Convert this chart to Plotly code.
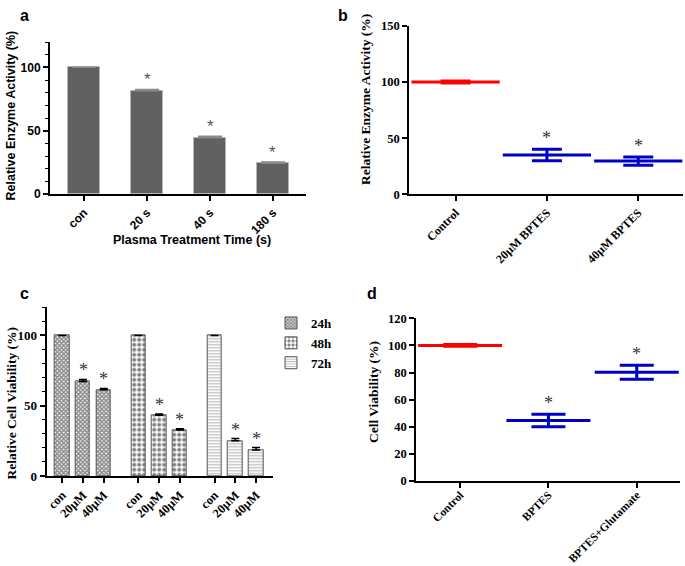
import plotly.graph_objects as go

# a: enzyme activity vs plasma treatment time
a_labels = ["con", "20 s", "40 s", "180 s"]
a_values = [100, 81.5, 44.5, 24.2]
a_err = [None, 1.0, 1.0, 1.0]

# b: enzyme activity with BPTES
b_labels = ["Control", "20µM BPTES", "40µM BPTES"]
b_mean = [100, 35.1, 29.6]
b_sd = [0.9, 5.1, 3.7]

# c: cell viability at 24/48/72 h
c_groups = ["24h", "48h", "72h"]
c_labels = ["con", "20µM", "40µM"]
c_24h = [100, 67.2, 61.3]
c_24h_err = [None, 1.5, 1.0]
c_48h = [100, 43.3, 32.8]
c_48h_err = [None, 0.8, 0.8]
c_72h = [100, 25.0, 18.5]
c_72h_err = [None, 1.6, 1.7]

# d: cell viability with BPTES / glutamate
d_labels = ["Control", "BPTES", "BPTES+Glutamate"]
d_mean = [100, 44.6, 80.2]
d_sd = [0.7, 4.6, 5.1]

W, H = 685, 566
SANS = "Liberation Sans"
SERIF = "Liberation Serif"
RED = "#ff0000"
BLUE = "#0000c8"


def px_x(p):
    return p / W


def px_y(p):
    return (H - p) / H


fig = go.Figure()
annotations = []

# ---------- panel a ----------
fig.add_trace(go.Bar(
    x=list(range(len(a_labels))), y=a_values, width=0.5,
    marker=dict(color="#616161", line=dict(color="#b5b5b5", width=1)),
    error_y=dict(type="data", array=a_err, arrayminus=[0] * 4, symmetric=False,
                 color="#8a8a8a", thickness=1.5, width=12),
    xaxis="x", yaxis="y", showlegend=False,
))
for i, v in enumerate(a_values):
    if a_err[i] is None:
        continue
    annotations.append(dict(x=i, y=v + a_err[i], xref="x", yref="y", text="*",
                            showarrow=False, yanchor="bottom", yshift=-2,
                            font=dict(family=SANS, size=17, color="#555555")))

# ---------- panel b ----------
for i, m in enumerate(b_mean):
    col = RED if i == 0 else BLUE
    fig.add_trace(go.Scatter(
        x=[i], y=[m], mode="markers",
        marker=dict(symbol="line-ew", size=63, color=col, line=dict(color=col, width=3)),
        error_y=dict(type="data", array=[b_sd[i]], color=col, thickness=3, width=15),
        xaxis="x2", yaxis="y2", showlegend=False,
    ))
    if i > 0:
        annotations.append(dict(x=i, y=m + b_sd[i], xref="x2", yref="y2", text="*",
                                showarrow=False, yanchor="bottom", yshift=-1,
                                font=dict(family=SERIF, size=18, color="#333333")))

# ---------- panel c ----------
gap = 0.67
c_series = [c_24h, c_48h, c_72h]
c_errs = [c_24h_err, c_48h_err, c_72h_err]
c_patterns = [
    dict(shape="x", fgcolor="#1a1a1a", bgcolor="white", size=3, solidity=0.75),
    dict(shape=".", fgcolor="black", bgcolor="white", size=5, solidity=0.5),
    dict(shape="-", fgcolor="#777777", bgcolor="white", size=3, solidity=0.4),
]
c_x_all = []
for g, name in enumerate(c_groups):
    xs = [g * (3 + gap) + i for i in range(3)]
    c_x_all += xs
    fig.add_trace(go.Bar(
        x=xs, y=c_series[g], width=0.69, name=name,
        marker=dict(color="white", pattern=c_patterns[g], line=dict(color="#555555", width=1)),
        error_y=dict(type="data", array=c_errs[g], arrayminus=[0] * 3, symmetric=False,
                     color="black", thickness=1.5, width=4),
        xaxis="x3", yaxis="y3",
    ))
    for i, v in enumerate(c_series[g]):
        if c_errs[g][i] is None:
            continue
        annotations.append(dict(x=xs[i], y=v + c_errs[g][i], xref="x3", yref="y3", text="*",
                                showarrow=False, yanchor="bottom", yshift=-3,
                                font=dict(family=SERIF, size=18, color="#333333")))

# ---------- panel d ----------
for i, m in enumerate(d_mean):
    col = RED if i == 0 else BLUE
    fig.add_trace(go.Scatter(
        x=[i], y=[m], mode="markers",
        marker=dict(symbol="line-ew", size=60, color=col, line=dict(color=col, width=3)),
        error_y=dict(type="data", array=[d_sd[i]], color=col, thickness=3, width=17),
        xaxis="x4", yaxis="y4", showlegend=False,
    ))
    if i > 0:
        annotations.append(dict(x=i, y=m + d_sd[i], xref="x4", yref="y4", text="*",
                                showarrow=False, yanchor="bottom", yshift=-1,
                                font=dict(family=SERIF, size=18, color="#333333")))

# axis titles and panel letters
titles = [
    ("Relative Enzyme Activity (%)", 10.5, 116, -90, SANS, 12.5),
    ("Plasma Treatment Time (s)", 192, 240, 0, SANS, 12.5),
    ("Relative Enzyme Activity (%)", 365, 100, -90, SERIF, 13.5),
    ("Relative Cell Viability (%)", 10.5, 403, -90, SERIF, 13.5),
    ("Cell Viability (%)", 373, 392, -90, SERIF, 13.5),
]
for text, x, y, ang, fam, size in titles:
    annotations.append(dict(x=px_x(x), y=px_y(y), xref="paper", yref="paper", text=text,
                            textangle=ang, showarrow=False, xanchor="center", yanchor="middle",
                            font=dict(family=fam, size=size, color="black", weight="bold")))
for text, x, y in [("a", 24, 16), ("b", 343, 16), ("c", 25, 293), ("d", 372, 293)]:
    annotations.append(dict(x=px_x(x), y=px_y(y), xref="paper", yref="paper", text=text,
                            showarrow=False, xanchor="center", yanchor="middle",
                            font=dict(family=SANS, size=16, color="black", weight="bold")))


def yax(domain, rng, dtick, fam, size, lw, minor=None):
    d = dict(domain=domain, range=rng, dtick=dtick, showgrid=False, zeroline=False,
             showline=True, linecolor="black", linewidth=lw, ticks="outside", ticklen=5,
             tickwidth=lw, tickcolor="black", automargin=False,
             tickfont=dict(family=fam, size=size, color="black", weight="bold"))
    if minor:
        d["minor"] = dict(dtick=minor, ticks="outside", ticklen=3, tickwidth=1, tickcolor="black")
    return d


def xax(domain, rng, vals, text, fam, size, lw, anchor, standoff=0):
    return dict(domain=domain, range=rng, tickvals=vals, ticktext=text, tickangle=-45,
                showgrid=False, zeroline=False, showline=True, linecolor="black", linewidth=lw,
                ticks="outside", ticklen=5, tickwidth=lw, tickcolor="black", anchor=anchor,
                automargin=False, ticklabelstandoff=standoff,
                tickfont=dict(family=fam, size=size, color="black", weight="bold"))


fig.update_layout(
    width=W, height=H,
    margin=dict(l=0, r=0, t=0, b=0),
    paper_bgcolor="white", plot_bgcolor="white",
    bargap=0,
    xaxis=xax([px_x(50), px_x(306)], [-0.54, 3.524], list(range(4)), a_labels, SANS, 12, 2, "y"),
    yaxis=yax([px_y(194), px_y(42)], [0, 120], 50, SANS, 12, 2, minor=10),
    xaxis2=xax([px_x(409), px_x(683)], [-0.51, 2.49], list(range(3)), b_labels, SERIF, 12, 1.5, "y2"),
    yaxis2=yax([px_y(194.3), px_y(26)], [0, 150], 50, SERIF, 12.5, 1.5),
    xaxis3=xax([px_x(46.7), px_x(273.3)], [-0.75, 10.17], c_x_all, c_labels * 3, SERIF, 12.5, 2, "y3"),
    yaxis3=yax([px_y(476), px_y(307.3)], [0, 120], 50, SERIF, 13, 2, minor=10),
    xaxis4=xax([px_x(416), px_x(680)], [-0.5, 2.49], list(range(3)), d_labels, SERIF, 11.5, 1.5, "y4",
               standoff=-4),
    yaxis4=yax([px_y(481), px_y(318.3)], [0, 120], 20, SERIF, 12.5, 1.5),
    legend=dict(x=px_x(271), y=px_y(308), xanchor="left", yanchor="top",
                font=dict(family=SERIF, size=13, color="black", weight="bold"),
                bgcolor="rgba(0,0,0,0)"),
    annotations=annotations,
)
fig.layout.yaxis.anchor = "x"
fig.layout.yaxis2.anchor = "x2"
fig.layout.yaxis3.anchor = "x3"
fig.layout.yaxis4.anchor = "x4"

# page body has a default margin; drop it so the figure sits at the corner
fig.write_html("out.html", config={"displayModeBar": False},
               post_script="document.body.style.margin='0px';")
